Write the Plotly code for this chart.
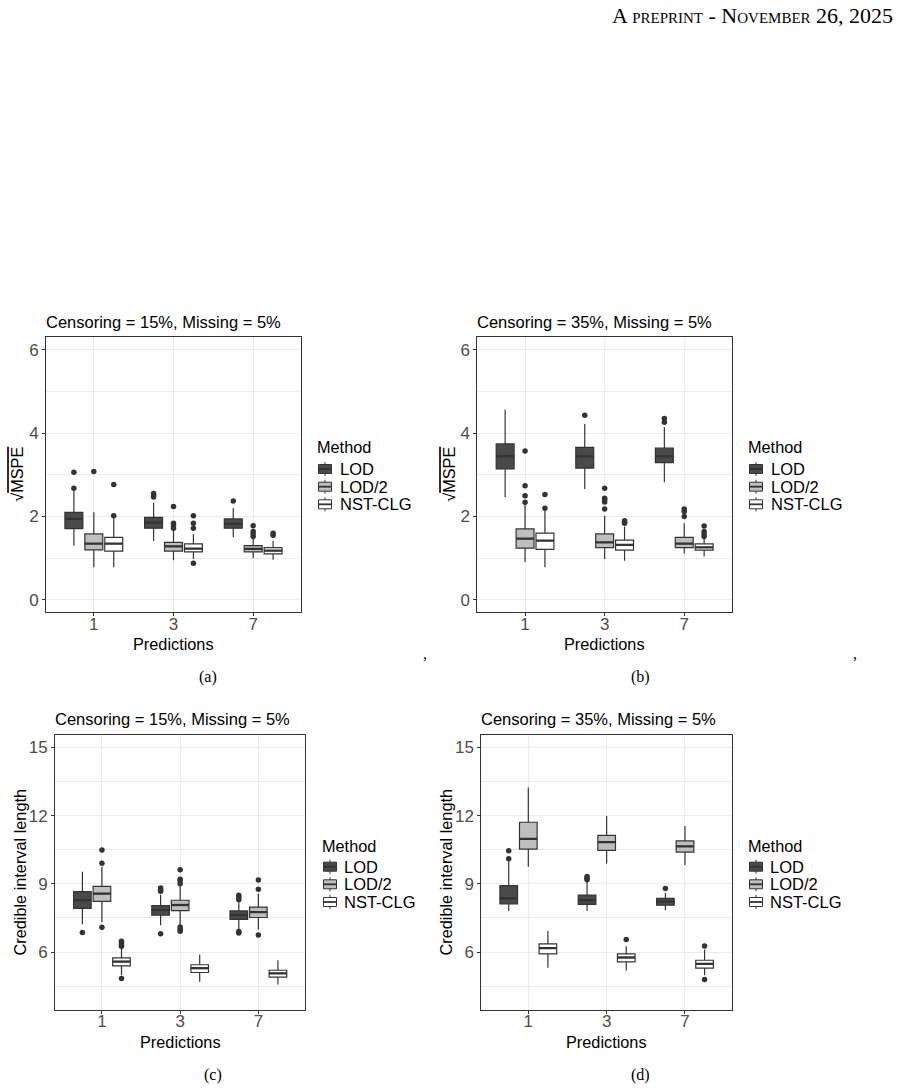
import plotly.graph_objects as go

W, H = 903, 1089

predictions = ["1", "3", "7"]
methods = ["LOD", "LOD/2", "NST-CLG"]
method_fills = ["#4a4a4a", "#bebebe", "#ffffff"]

# ---------------- Panel (a): sqrt(MSPE), Censoring 15% ----------------
a_q1 = [[1.71, 1.72, 1.72], [1.20, 1.17, 1.15], [1.17, 1.15, 1.10]]
a_med = [[1.94, 1.85, 1.82], [1.35, 1.28, 1.22], [1.35, 1.23, 1.18]]
a_q3 = [[2.10, 1.98, 1.94], [1.58, 1.38, 1.30], [1.50, 1.34, 1.25]]
a_lo = [[1.30, 1.41, 1.50], [0.78, 0.95, 1.00], [0.78, 0.98, 0.96]]
a_hi = [[2.62, 2.33, 2.20], [2.10, 1.68, 1.48], [1.96, 1.58, 1.42]]
a_out = [
    [[2.68, 3.06], [2.47, 2.51, 2.55], [2.37]],
    [[3.08], [1.72, 1.78, 1.84, 2.24], [1.52, 1.58, 1.64, 1.78]],
    [[2.02, 2.77], [0.88, 1.72, 1.84, 2.02], [1.55, 1.60]],
]

# ---------------- Panel (b): sqrt(MSPE), Censoring 35% ----------------
b_q1 = [[3.14, 3.16, 3.29], [1.24, 1.25, 1.25], [1.21, 1.19, 1.19]]
b_med = [[3.45, 3.44, 3.45], [1.47, 1.38, 1.35], [1.42, 1.32, 1.26]]
b_q3 = [[3.74, 3.66, 3.64], [1.70, 1.58, 1.50], [1.60, 1.43, 1.34]]
b_lo = [[2.46, 2.66, 2.82], [0.91, 0.98, 1.11], [0.78, 0.94, 1.04]]
b_hi = [[4.56, 4.22, 4.14], [2.28, 2.02, 1.84], [2.16, 1.76, 1.48]]
b_out = [
    [[], [4.43], [4.26, 4.35]],
    [[2.34, 2.50, 2.74, 3.57], [2.18, 2.35, 2.40, 2.44, 2.68], [2.00, 2.12, 2.18]],
    [[2.20, 2.53], [1.84, 1.87, 1.90], [1.52, 1.58, 1.64, 1.77]],
]

# ---------------- Panel (c): credible interval length, Censoring 15% ----------------
c_q1 = [[7.92, 7.62, 7.44], [8.23, 7.82, 7.52], [5.39, 5.10, 4.90]]
c_med = [[8.28, 7.85, 7.63], [8.57, 8.07, 7.76], [5.58, 5.29, 5.06]]
c_q3 = [[8.66, 8.04, 7.81], [8.89, 8.28, 7.98], [5.74, 5.44, 5.20]]
c_lo = [[7.22, 7.18, 6.99], [7.31, 7.13, 6.99], [4.98, 4.69, 4.57]]
c_hi = [[9.53, 8.52, 8.19], [9.75, 8.92, 8.57], [6.18, 5.88, 5.64]]
c_out = [
    [[6.86], [6.81, 8.67, 8.74, 8.82], [6.84, 6.90, 8.30, 8.40, 8.50]],
    [[7.09, 9.91, 10.49], [6.92, 7.00, 7.10, 9.00, 9.15, 9.20, 9.62], [6.75, 8.76, 9.17]],
    [[4.84, 6.25, 6.32, 6.40, 6.47], [], []],
]

# ---------------- Panel (d): credible interval length, Censoring 35% ----------------
d_q1 = [[8.12, 8.10, 8.06], [10.53, 10.47, 10.40], [5.92, 5.57, 5.29]]
d_med = [[8.36, 8.28, 8.22], [10.98, 10.84, 10.65], [6.17, 5.76, 5.48]]
d_q3 = [[8.92, 8.51, 8.36], [11.71, 11.13, 10.89], [6.36, 5.92, 5.64]]
d_lo = [[7.81, 7.81, 7.84], [9.75, 9.90, 9.83], [5.31, 5.19, 4.98]]
d_hi = [[9.99, 9.10, 8.60], [13.24, 11.99, 11.55], [6.93, 6.26, 6.11]]
d_out = [
    [[10.10, 10.46], [9.18, 9.25, 9.32], [8.80]],
    [[], [], []],
    [[], [6.55], [4.79, 6.27]],
]

mspe_major = [0, 2, 4, 6]
mspe_minor = [1, 3, 5]
cil_major = [6, 9, 12, 15]
cil_minor = [4.5, 7.5, 10.5, 13.5]

SANS = "Liberation Sans, Arial, sans-serif"
SERIF = "Liberation Serif, Times New Roman, serif"
EDGE = "#333333"
GRID = "#EBEBEB"
BOXW = 0.225
OFFSETS = [-0.25, 0.0, 0.25]
TICKSIZE = 17
YT_MSPE = "√<span style='text-decoration:overline'>MSPE</span>"


def px(x):
    return x / W


def py(y):
    return 1 - y / H


panels = [
    dict(stats=(a_q1, a_med, a_q3, a_lo, a_hi, a_out), box=(46, 337.3, 301, 612.3),
         yrange=[-0.3, 6.3], major=mspe_major, minor=mspe_minor, ytitle=YT_MSPE, ytx=17,
         title="Censoring = 15%, Missing = 5%", xtitle_y=644, title_y=321.7,
         leg=(317.3, 447.5, 325, 339.5, [469, 486.7, 504.3]), cap="(a)", cap_xy=(208, 677)),
    dict(stats=(b_q1, b_med, b_q3, b_lo, b_hi, b_out), box=(477.3, 337.3, 732, 612.3),
         yrange=[-0.3, 6.3], major=mspe_major, minor=mspe_minor, ytitle=YT_MSPE, ytx=449,
         title="Censoring = 35%, Missing = 5%", xtitle_y=644, title_y=321.7,
         leg=(748.3, 447.5, 756, 770.5, [469, 486.7, 504.3]), cap="(b)", cap_xy=(640, 677)),
    dict(stats=(c_q1, c_med, c_q3, c_lo, c_hi, c_out), box=(55, 735, 305.3, 1010),
         yrange=[3.45, 15.55], major=cil_major, minor=cil_minor, ytitle="Credible interval length", ytx=19,
         title="Censoring = 15%, Missing = 5%", xtitle_y=1042.3, title_y=719.3,
         leg=(321.7, 845.7, 330, 344, [866.7, 884.3, 902]), cap="(c)", cap_xy=(213, 1075)),
    dict(stats=(d_q1, d_med, d_q3, d_lo, d_hi, d_out), box=(481.3, 735, 732, 1010),
         yrange=[3.45, 15.55], major=cil_major, minor=cil_minor, ytitle="Credible interval length", ytx=445,
         title="Censoring = 35%, Missing = 5%", xtitle_y=1042.3, title_y=719.3,
         leg=(748.3, 845.7, 756, 770, [866.7, 884.3, 902]), cap="(d)", cap_xy=(640, 1075)),
]

fig = go.Figure()
layout = dict(width=W, height=H, margin=dict(l=0, r=0, t=0, b=0),
              paper_bgcolor="white", plot_bgcolor="white", showlegend=False,
              boxmode="overlay", shapes=[], annotations=[])

for i, p in enumerate(panels):
    k = "" if i == 0 else str(i + 1)
    xa, ya = "x" + k, "y" + k
    L, T, R, B = p["box"]
    layout["xaxis" + k] = dict(
        domain=[px(L), px(R)], anchor=ya, range=[0.4, 3.6],
        tickvals=[1, 2, 3], ticktext=predictions,
        showgrid=True, gridcolor=GRID, gridwidth=1.2, zeroline=False,
        showline=True, mirror=True, linecolor=EDGE, linewidth=1,
        ticks="outside", ticklen=3, tickcolor=EDGE, tickwidth=1, ticklabelstandoff=-7,
        tickfont=dict(family=SANS, size=TICKSIZE, color="#4D4D4D"))
    layout["yaxis" + k] = dict(
        domain=[py(B), py(T)], anchor=xa, range=p["yrange"],
        tickvals=p["major"], showgrid=True, gridcolor=GRID, gridwidth=1.2, zeroline=False,
        minor=dict(tickvals=p["minor"], showgrid=True, gridcolor=GRID, gridwidth=0.8),
        showline=True, mirror=True, linecolor=EDGE, linewidth=1,
        ticks="outside", ticklen=3, tickcolor=EDGE, tickwidth=1,
        tickfont=dict(family=SANS, size=TICKSIZE, color="#4D4D4D"))

    q1, med, q3, lo, hi, out = p["stats"]
    for m in range(len(methods)):
        xs = [j + 1 + OFFSETS[m] for j in range(len(predictions))]
        fig.add_trace(go.Box(
            x=xs, q1=q1[m], median=med[m], q3=q3[m], lowerfence=lo[m], upperfence=hi[m],
            xaxis=xa, yaxis=ya, width=BOXW, fillcolor=method_fills[m],
            line=dict(color=EDGE, width=1.2), whiskerwidth=0, boxpoints=False,
            name=methods[m], showlegend=False, hoverinfo="skip"))
        mx, my = [], []
        for j in range(len(predictions)):
            mx += [xs[j] - BOXW / 2, xs[j] + BOXW / 2, None]
            my += [med[m][j], med[m][j], None]
        fig.add_trace(go.Scatter(x=mx, y=my, mode="lines", xaxis=xa, yaxis=ya,
                                 line=dict(color=EDGE, width=2.3), hoverinfo="skip",
                                 showlegend=False))
        ox, oy = [], []
        for j in range(len(predictions)):
            ox += [xs[j]] * len(out[m][j])
            oy += out[m][j]
        fig.add_trace(go.Scatter(x=ox, y=oy, mode="markers", xaxis=xa, yaxis=ya,
                                 marker=dict(color=EDGE, size=5.5, line=dict(width=0)),
                                 hoverinfo="skip", showlegend=False))

    ann = layout["annotations"]
    # panel title
    ann.append(dict(text=p["title"], x=px(L - 2), y=py(p["title_y"]), xref="paper", yref="paper",
                    xanchor="left", yanchor="middle", showarrow=False,
                    font=dict(family=SANS, size=16.5, color="black")))
    # x title
    ann.append(dict(text="Predictions", x=px((L + R) / 2), y=py(p["xtitle_y"]), xref="paper", yref="paper",
                    xanchor="center", yanchor="middle", showarrow=False,
                    font=dict(family=SANS, size=16.3, color="black")))
    # y title
    ann.append(dict(text=p["ytitle"], x=px(p["ytx"]), y=py((T + B) / 2), xref="paper", yref="paper",
                    xanchor="center", yanchor="middle", showarrow=False, textangle=-90,
                    font=dict(family=SANS, size=16.3, color="black")))
    # caption
    ann.append(dict(text=p["cap"], x=px(p["cap_xy"][0]), y=py(p["cap_xy"][1]), xref="paper", yref="paper",
                    xanchor="center", yanchor="middle", showarrow=False,
                    font=dict(family=SERIF, size=16, color="black")))
    # legend (ggplot-style)
    tx, ty, kcx, txt_x, item_ys = p["leg"]
    ann.append(dict(text="Method", x=px(tx - 2), y=py(ty), xref="paper", yref="paper",
                    xanchor="left", yanchor="middle", showarrow=False,
                    font=dict(family=SANS, size=16.3, color="black")))
    for m, iy in enumerate(item_ys):
        ann.append(dict(text=methods[m], x=px(txt_x - 2), y=py(iy), xref="paper", yref="paper",
                        xanchor="left", yanchor="middle", showarrow=False,
                        font=dict(family=SANS, size=16.5, color="black")))
        hw, hh, wk = 6.5, 4.5, 2.5
        layout["shapes"].append(dict(type="line", xref="paper", yref="paper",
                                     x0=px(kcx), x1=px(kcx), y0=py(iy - hh - wk), y1=py(iy + hh + wk),
                                     line=dict(color=EDGE, width=1)))
        layout["shapes"].append(dict(type="rect", xref="paper", yref="paper",
                                     x0=px(kcx - hw), x1=px(kcx + hw), y0=py(iy - hh), y1=py(iy + hh),
                                     fillcolor=method_fills[m], line=dict(color=EDGE, width=1)))
        layout["shapes"].append(dict(type="line", xref="paper", yref="paper",
                                     x0=px(kcx - hw), x1=px(kcx + hw), y0=py(iy), y1=py(iy),
                                     line=dict(color=EDGE, width=1.8)))

# page furniture
layout["annotations"].append(dict(text="A preprint - November 26, 2025", x=px(895), y=py(15),
                                  xref="paper", yref="paper", xanchor="right", yanchor="middle",
                                  showarrow=False,
                                  font=dict(family=SERIF, size=22, color="black", variant="small-caps")))
for cx in (425, 855):
    layout["annotations"].append(dict(text=",", x=px(cx), y=py(653), xref="paper", yref="paper",
                                      xanchor="center", yanchor="middle", showarrow=False,
                                      font=dict(family=SERIF, size=16, color="black")))

fig.update_layout(**layout)
fig.write_html("out.html")
